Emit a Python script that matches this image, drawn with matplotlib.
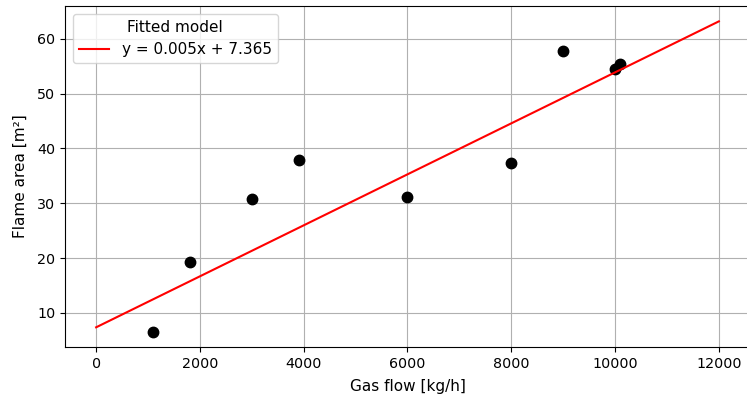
import numpy as np
import matplotlib
matplotlib.use("Agg")
import matplotlib.pyplot as plt

# measured points
gas_flow = [1100, 1800, 3000, 3900, 6000, 8000, 9000, 10000, 10100]
flame_area = [6.6, 19.2, 30.7, 37.8, 31.1, 37.4, 57.7, 54.5, 55.3]

# fitted model
slope = 0.00465
intercept = 7.365
fit_x = [0, 12000]

fig = plt.figure(figsize=(7.47, 3.99), dpi=100)
ax = fig.add_axes([0.087, 0.1303, 0.917, 0.855])

ax.plot(gas_flow, flame_area, 'o', color='black', markersize=7.5)
xs = np.array(fit_x)
ax.plot(xs, slope * xs + intercept, color='red',
        label=f"y = {slope:.3f}x + {intercept:.3f}")

ax.set_xlabel("Gas flow [kg/h]", fontsize=11, labelpad=6)
ax.set_ylabel("Flame area [m²]", fontsize=11, labelpad=6.5)
ax.tick_params(labelsize=10.3)
ax.legend(title="Fitted model", loc="upper left", fontsize=11, title_fontsize=11)
ax.grid(True)

fig.savefig("out.png", dpi=100)
